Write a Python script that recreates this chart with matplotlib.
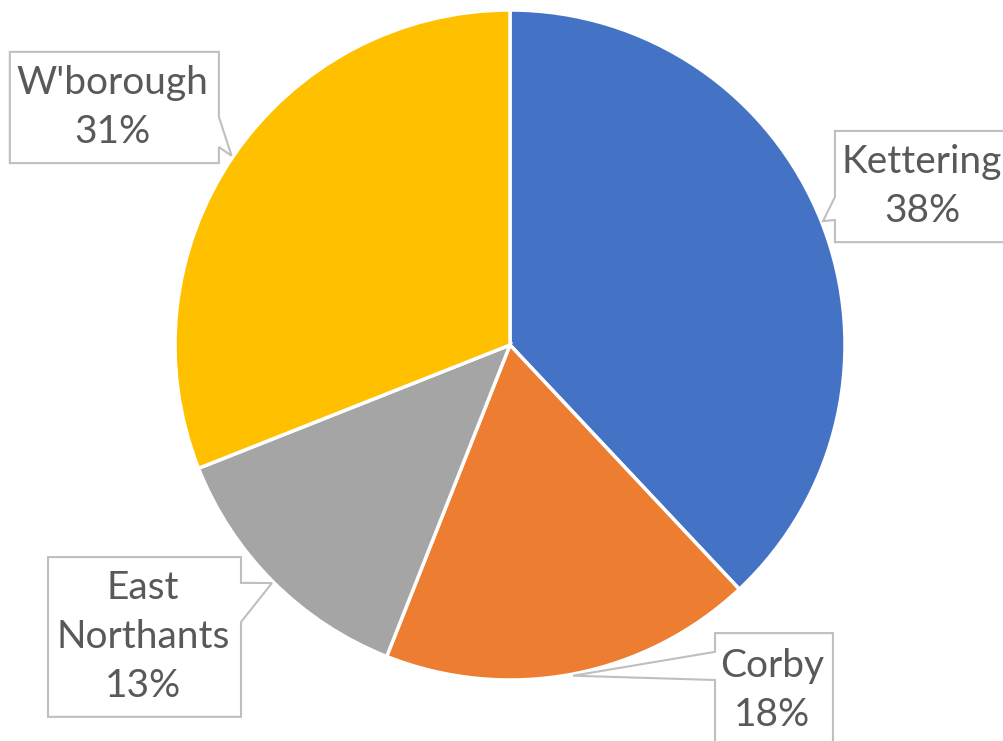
import numpy as np
import matplotlib.pyplot as plt
from matplotlib.patches import Polygon

# data
labels = ["Kettering", "Corby", "East\nNorthants", "W'borough"]
values = [38, 18, 13, 31]
colors = ["#4472C4", "#ED7D31", "#A5A5A5", "#FFC000"]

# callout boxes in pie-radius units: (x0, x1, y0, y1), side of pointer, pointer base (ylow, yhigh)
boxes = [
    ((0.970, 1.500, 0.307, 0.639), "left", (0.373, 0.442)),
    ((0.612, 0.964, -1.200, -0.860), "left", (-1.000, -0.916)),
    ((-1.379, -0.803, -1.110, -0.633), "right", (-0.827, -0.710)),
    ((-1.493, -0.869, 0.543, 0.875), "right", (0.591, 0.681)),
]


def callout(ax, box, side, base, tip):
    x0, x1, y0, y1 = box
    lo, hi = base
    if side == "right":
        pts = [(x0, y0), (x1, y0), (x1, lo), tip, (x1, hi), (x1, y1), (x0, y1)]
    else:
        pts = [(x0, y0), (x1, y0), (x1, y1), (x0, y1), (x0, hi), tip, (x0, lo)]
    ax.add_patch(Polygon(pts, closed=True, facecolor="white", edgecolor="#BFBFBF",
                         linewidth=1.5, zorder=5))


fig = plt.figure(figsize=(10.04, 7.41), dpi=100)
ax = fig.add_axes([0, 0, 1, 1])

wedges, _ = ax.pie(values, colors=colors, startangle=90, counterclock=False,
                   radius=1.0, wedgeprops=dict(edgecolor="white", linewidth=2.5))

for w, lab, v, (box, side, base) in zip(wedges, labels, values, boxes):
    mid = np.deg2rad((w.theta1 + w.theta2) / 2)
    tip = (np.cos(mid) * 1.005, np.sin(mid) * 1.005)
    callout(ax, box, side, base, tip)
    x0, x1, y0, y1 = box
    ax.text((x0 + x1) / 2 - 0.005, (y0 + y1) / 2, f"{lab}\n{v}%", ha="center", va="center",
            multialignment="center", fontsize=28, color="#595959",
            family="Lato", linespacing=1.45, zorder=6)

ax.set_aspect("equal")
ax.set_xlim(-510 / 335, 494 / 335)
ax.set_ylim(-396 / 335, 345 / 335)
ax.axis("off")

plt.savefig("out.png", dpi=100)
